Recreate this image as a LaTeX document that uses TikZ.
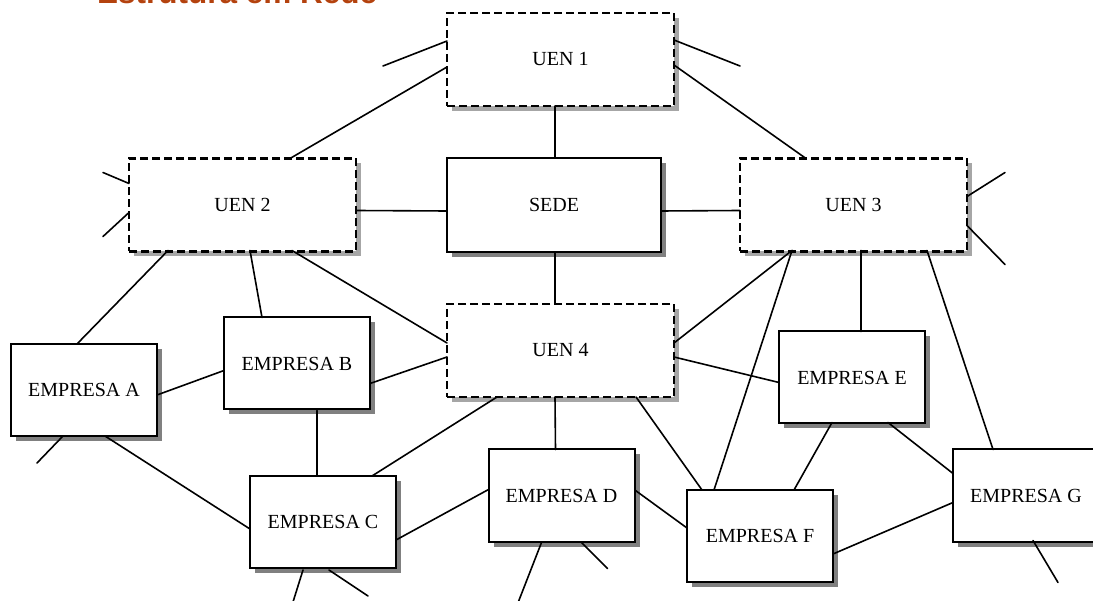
\documentclass[tikz,border=0pt]{standalone}
\usepackage{fontspec}
\setmainfont{Liberation Serif}
\newfontfamily\titlefont{Liberation Sans}
\usetikzlibrary{calc,shadows}
\definecolor{titleorange}{RGB}{180,66,14}
\begin{document}
\begin{tikzpicture}[x=1pt,y=-1pt,
  box/.style={draw=black, line width=2pt, fill=white, inner sep=0pt, outer sep=0pt,
    font=\fontsize{20}{22}\selectfont},
  company/.style={box, minimum width=146pt, minimum height=92pt,
    drop shadow={shadow xshift=5pt, shadow yshift=-5pt, fill=black!50, opacity=1}},
  hq/.style={box, minimum width=214pt, minimum height=94pt,
    drop shadow={shadow xshift=5pt, shadow yshift=-5pt, fill=black!50, opacity=1}},
  unit/.style={box, line width=2.3pt, dash pattern=on 8pt off 4pt, minimum width=227pt, minimum height=93pt,
    drop shadow={shadow xshift=5pt, shadow yshift=-5pt, fill=black!35, opacity=1}},
  link/.style={line width=1.6pt, line cap=round}
]
\clip (0,0) rectangle (1093,601);

% heading, partly above the page edge
\node[anchor=base west, inner sep=0pt, text=titleorange,
      font=\titlefont\bfseries\fontsize{31.5}{34}\selectfont] (title) at (97,4) {Estrutura em Rede};

% units, headquarters and companies
\node[unit] (uen1) at (560.5,59.5) {UEN 1};
\node[unit] (uen2) at (242.5,205) {UEN 2};
\node[hq]   (sede) at (554,205) {SEDE};
\node[unit] (uen3) at (853.5,205) {UEN 3};
\node[unit] (uen4) at (560.5,350.5) {UEN 4};
\node[company] (a) at (84,390) {EMPRESA A};
\node[company] (b) at (297,363.5) {EMPRESA B};
\node[company] (c) at (323,522) {EMPRESA C};
\node[company] (d) at (561.5,495.5) {EMPRESA D};
\node[company] (e) at (852,377.5) {EMPRESA E};
\node[company] (f) at (760,536) {EMPRESA F};
\node[company] (g) at (1026,495.5) {EMPRESA G};

% links between the boxes
\draw[link] ($(uen2.north west)+(161,0)$) -- ($(uen1.north west)+(0,54)$);
\draw[link] ($(uen1.north west)+(227,52)$) -- ($(uen3.north west)+(66,0)$);
\draw[link] ($(uen1.north west)+(108,93)$) -- ($(sede.north west)+(108,0)$);
\draw[link] ($(uen2.north west)+(227,52)$) -- ($(sede.north west)+(0,53)$);
\draw[link] ($(sede.north west)+(214,53)$) -- ($(uen3.north west)+(0,52)$);
\draw[link] ($(sede.north west)+(108,94)$) -- ($(uen4.north west)+(108,0)$);
\draw[link] ($(uen2.north west)+(39,92)$) -- ($(a.north west)+(66,0)$);
\draw[link] ($(uen2.north west)+(121,92)$) -- ($(b.north west)+(38,0)$);
\draw[link] ($(uen2.north west)+(163,92)$) -- ($(uen4.north west)+(0,39)$);
\draw[link] ($(a.north west)+(146,51)$) -- ($(b.north west)+(0,53)$);
\draw[link] ($(b.north west)+(146,66)$) -- ($(uen4.north west)+(0,53)$);
\draw[link] ($(b.north west)+(93,93)$) -- ($(c.north west)+(67,0)$);
\draw[link] ($(a.north west)+(94,92)$) -- ($(c.north west)+(0,53)$);
\draw[link] ($(uen4.north west)+(50,93)$) -- ($(c.north west)+(122,0)$);
\draw[link] ($(c.north west)+(146,64)$) -- ($(d.north west)+(0,40)$);
\draw[link] ($(uen4.north west)+(108,93)$) -- ($(d.north west)+(67,0)$);
\draw[link] ($(d.north west)+(147,41)$) -- ($(f.north west)+(0,38)$);
\draw[link] ($(uen4.north west)+(189,93)$) -- ($(f.north west)+(15,0)$);
\draw[link] ($(uen3.north west)+(52,92)$) -- ($(f.north west)+(27,0)$);
\draw[link] ($(uen3.north west)+(52,92)$) -- ($(uen4.north west)+(227,39)$);
\draw[link] ($(uen4.north west)+(227,53)$) -- ($(e.north west)+(0,51)$);
\draw[link] ($(uen3.north west)+(121,92)$) -- ($(e.north west)+(82,0)$);
\draw[link] ($(uen3.north west)+(187,92)$) -- ($(g.north west)+(40,0)$);
\draw[link] ($(e.north west)+(53,91)$) -- ($(f.north west)+(107,0)$);
\draw[link] ($(e.north west)+(109,91)$) -- ($(g.north west)+(0,24)$);
\draw[link] ($(f.north west)+(146,64)$) -- ($(g.north west)+(0,53)$);

% open ends leading out of the network
\draw[link] ($(uen1.north west)+(0,28)$) -- ++(-64,25);
\draw[link] ($(uen1.north west)+(227,27)$) -- ++(66,26);
\draw[link] ($(uen2.north west)+(0,25)$) -- ++(-26,-11);
\draw[link] ($(uen2.north west)+(0,54)$) -- ++(-26,24);
\draw[link] ($(uen3.north west)+(227,38)$) -- ++(38,-24);
\draw[link] ($(uen3.north west)+(227,67)$) -- ++(38,39);
\draw[link] ($(a.north west)+(52,92)$) -- ++(-26,27);
\draw[link] ($(c.north west)+(53,94)$) -- ++(-10,32);
\draw[link] ($(c.north west)+(79,94)$) -- ++(39,26);
\draw[link] ($(d.north west)+(53,93)$) -- ++(-23,59);
\draw[link] ($(d.north west)+(93,93)$) -- ++(26,26);
\draw[link] ($(g.north west)+(80,91)$) -- ++(25,42);
\end{tikzpicture}
\end{document}
